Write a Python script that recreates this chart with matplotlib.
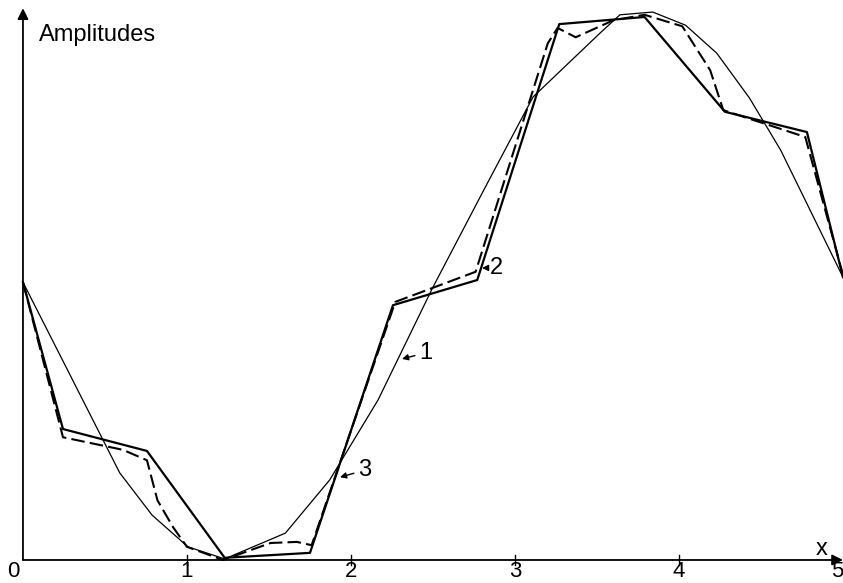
import matplotlib.pyplot as plt

plt.rcParams['font.family'] = ['Liberation Sans', 'DejaVu Sans']

# curve 1: thin smooth curve
x1 = [0.0, 0.59, 0.787, 1.006, 1.23, 1.60, 1.87, 2.165, 2.50, 2.82, 3.11, 3.52, 3.64, 3.84, 4.04, 4.23, 4.43, 4.62, 5.0]
y1 = [0.507, 0.159, 0.082, 0.024, 0.002, 0.049, 0.146, 0.292, 0.498, 0.681, 0.845, 0.962, 0.995, 1.0, 0.976, 0.925, 0.843, 0.748, 0.516]

# curve 2: heavy solid polyline
x2 = [0.0, 0.244, 0.756, 1.23, 1.75, 2.256, 2.77, 3.27, 3.79, 4.28, 4.78, 5.0]
y2 = [0.507, 0.239, 0.199, 0.004, 0.013, 0.465, 0.511, 0.978, 0.991, 0.818, 0.781, 0.516]

# curve 3: dashed polyline
x3 = [0.0, 0.244, 0.61, 0.756, 0.82, 0.915, 1.0, 1.22, 1.51, 1.67, 1.76, 2.27, 2.76, 3.20, 3.26, 3.37, 3.60, 3.79, 4.02, 4.19, 4.27, 4.77, 5.0]
y3 = [0.507, 0.224, 0.201, 0.182, 0.109, 0.060, 0.024, 0.0, 0.031, 0.033, 0.027, 0.471, 0.526, 0.943, 0.971, 0.954, 0.985, 0.995, 0.974, 0.894, 0.821, 0.772, 0.520]

xticks = [1, 2, 3, 4, 5]
tick_labels = ['1', '2', '3', '4', '5']

# curve labels: (text, arrow tip x, y, text x, y)
curve_labels = [
    ('1', 2.311, 0.367, 2.415, 0.378),
    ('2', 2.799, 0.533, 2.848, 0.533),
    ('3', 1.933, 0.151, 2.043, 0.164),
]

fig = plt.figure(figsize=(8.43, 5.83), dpi=100)
ax = fig.add_axes([0, 0, 1, 1])
ax.set_xlim(-0.140, 5.0)
ax.set_ylim(-0.042, 1.022)
ax.axis('off')

fs = 17

# axes with arrow heads
ax.annotate('', xy=(5.0, 0), xytext=(0, 0),
            arrowprops=dict(arrowstyle='-|>', color='black', lw=1.3,
                            mutation_scale=16, shrinkA=0, shrinkB=0))
ax.annotate('', xy=(0, 1.007), xytext=(0, 0),
            arrowprops=dict(arrowstyle='-|>', color='black', lw=1.3,
                            mutation_scale=16, shrinkA=0, shrinkB=0))

# tick marks and labels
for xt, lab in zip(xticks, tick_labels):
    if xt < 5:
        ax.plot([xt, xt], [-0.009, 0.009], color='black', lw=1.0)
        ax.text(xt, -0.031, lab, ha='center', va='baseline', fontsize=16)
    else:
        ax.text(xt, -0.031, lab, ha='right', va='baseline', fontsize=16)
ax.text(-0.061, -0.031, '0', ha='center', va='baseline', fontsize=16)
ax.text(4.872, 0.020, 'x', ha='center', va='center', fontsize=fs)
ax.text(0.098, 0.947, 'Amplitudes', ha='left', va='baseline', fontsize=fs)

# the curves
ax.plot(x1, y1, color='black', lw=0.9)
ax.plot(x2, y2, color='black', lw=1.6)
ax.plot(x3, y3, color='black', lw=1.5, linestyle=(0, (6.5, 2.5)))

for lab, xa, ya, xt, yt in curve_labels:
    ax.annotate(lab, xy=(xa, ya), xytext=(xt, yt), ha='left', va='center',
                fontsize=fs,
                arrowprops=dict(arrowstyle='-|>', color='black', lw=1.0,
                                mutation_scale=9, shrinkA=1, shrinkB=0))

fig.savefig('out.png', dpi=100)
